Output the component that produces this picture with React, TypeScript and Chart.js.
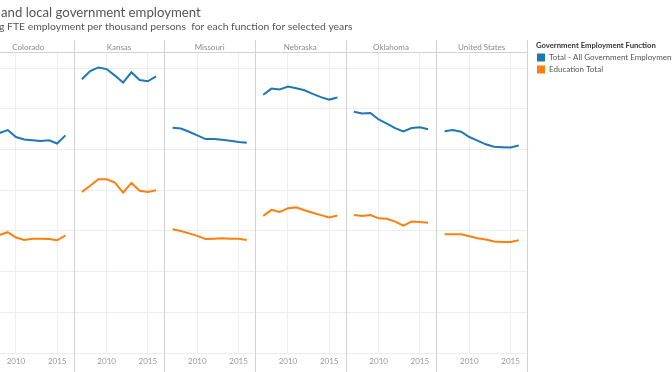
import React, { useEffect, useRef } from "react";
import { Chart, registerables } from "chart.js";

Chart.register(...registerables);

const STATES = ["Colorado", "Kansas", "Missouri", "Nebraska", "Oklahoma", "United States"];
const YEARS = [2007, 2008, 2009, 2010, 2011, 2012, 2013, 2014, 2015, 2016];
const X_TICK_YEARS = [2010, 2015];
const Y_TICKS = [0, 10, 20, 30, 40, 50, 60, 70];
const SERIES = ["Total - All Government Employment", "Education Total"];
const SERIES_COLORS = ["#1f77b4", "#ff7f0e"];

const COLORADO_TOTAL = [53.5, 54.1, 54.8, 53.1, 52.5, 52.3, 52.1, 52.3, 51.5, 53.5];
const COLORADO_EDU = [28.6, 29.0, 29.7, 28.4, 27.8, 28.1, 28.1, 28.0, 27.7, 28.9];
const KANSAS_TOTAL = [67.3, 69.3, 70.2, 69.8, 68.2, 66.5, 69.0, 67.1, 66.8, 68.0];
const KANSAS_EDU = [39.6, 41.1, 42.7, 42.7, 41.9, 39.4, 41.8, 39.9, 39.6, 40.0];
const MISSOURI_TOTAL = [55.4, 55.2, 54.4, 53.5, 52.6, 52.6, 52.4, 52.2, 51.9, 51.7];
const MISSOURI_EDU = [30.4, 30.0, 29.4, 28.8, 28.0, 28.1, 28.2, 28.1, 28.1, 27.8];
const NEBRASKA_TOTAL = [63.5, 65.0, 64.8, 65.5, 65.1, 64.6, 63.7, 62.9, 62.3, 62.8];
const NEBRASKA_EDU = [33.7, 35.2, 34.7, 35.6, 35.8, 35.1, 34.5, 33.9, 33.3, 33.8];
const OKLAHOMA_TOTAL = [59.3, 58.9, 59.0, 57.4, 56.4, 55.3, 54.5, 55.3, 55.5, 55.0];
const OKLAHOMA_EDU = [33.9, 33.7, 33.9, 33.1, 33.0, 32.3, 31.3, 32.3, 32.2, 32.0];
const US_TOTAL = [54.5, 54.8, 54.4, 53.1, 52.2, 51.3, 50.7, 50.6, 50.5, 51.0];
const US_EDU = [29.2, 29.2, 29.2, 28.7, 28.2, 27.9, 27.4, 27.3, 27.3, 27.7];

const TOTALS = [COLORADO_TOTAL, KANSAS_TOTAL, MISSOURI_TOTAL, NEBRASKA_TOTAL, OKLAHOMA_TOTAL, US_TOTAL];
const EDUS = [COLORADO_EDU, KANSAS_EDU, MISSOURI_EDU, NEBRASKA_EDU, OKLAHOMA_EDU, US_EDU];

const TITLE_HIDDEN = "State ";
const TITLE_SHOWN = "and local government employment";
const SUB_HIDDEN = "Comparin";
const SUB_SHOWN = "g FTE employment per thousand persons  for each function for selected years";

const SPAN = 11; // years per panel (2006..2017)
const BASE = 2006;
const OFF = 40; // canvas shifted left (px)
const FONT = "Lato, 'Open Sans', sans-serif";

const decor = {
  id: "decor",
  afterDraw(chart: any) {
    const ctx = chart.ctx;
    const xs = chart.scales.x;
    const area = chart.chartArea;
    ctx.save();
    // panel separators
    ctx.strokeStyle = "#d3d3d3";
    ctx.lineWidth = 1;
    for (let k = 1; k <= STATES.length; k++) {
      const x = Math.round(xs.getPixelForValue(k * SPAN)) + 0.5;
      ctx.beginPath();
      ctx.moveTo(x, 40);
      ctx.lineTo(x, 372);
      ctx.stroke();
    }
    // header bottom line
    ctx.beginPath();
    ctx.moveTo(area.left, 52.5);
    ctx.lineTo(area.right, 52.5);
    ctx.stroke();
    // headers
    ctx.fillStyle = "#8c8c8c";
    ctx.font = `8px ${FONT}`;
    ctx.textAlign = "center";
    ctx.textBaseline = "middle";
    STATES.forEach((s, i) => {
      const cx = xs.getPixelForValue(i * SPAN + SPAN / 2);
      ctx.fillText(s, cx, 47);
    });
    // title
    ctx.textAlign = "left";
    ctx.textBaseline = "middle";
    ctx.fillStyle = "#555555";
    ctx.font = `13.2px ${FONT}`;
    const tw = ctx.measureText(TITLE_HIDDEN).width;
    ctx.fillText(TITLE_HIDDEN + TITLE_SHOWN, OFF + 1 - tw, 13);
    ctx.font = `10.4px ${FONT}`;
    const sw = ctx.measureText(SUB_HIDDEN).width;
    ctx.fillText(SUB_HIDDEN + SUB_SHOWN, OFF - 1 - sw, 27);
    // legend
    const lx = OFF + 536;
    ctx.fillStyle = "#333333";
    ctx.font = `bold 7.7px ${FONT}`;
    ctx.fillText("Government Employment Function", lx, 46);
    ctx.font = `8px ${FONT}`;
    SERIES.forEach((s, i) => {
      const y = 53.5 + i * 12;
      ctx.fillStyle = SERIES_COLORS[i];
      ctx.fillRect(lx + 1, y, 8, 8);
      ctx.fillStyle = "#555555";
      ctx.fillText(s, lx + 13, y + 4);
    });
    ctx.restore();
  },
};

export default function App() {
  const ref = useRef<HTMLCanvasElement>(null);
  useEffect(() => {
    if (!ref.current) return;
    const datasets: any[] = [];
    STATES.forEach((_, i) => {
      [TOTALS[i], EDUS[i]].forEach((vals, si) => {
        datasets.push({
          label: `${STATES[i]} - ${SERIES[si]}`,
          data: YEARS.map((yr, j) => ({ x: i * SPAN + yr - BASE, y: vals[j] })),
          borderColor: SERIES_COLORS[si],
          backgroundColor: SERIES_COLORS[si],
          borderWidth: 2,
          pointRadius: 0,
          tension: 0,
          fill: false,
        });
      });
    });
    const chart = new Chart(ref.current, {
      type: "line",
      data: { datasets },
      options: {
        animation: false,
        responsive: false,
        layout: { padding: { left: 23, right: 145, top: 52, bottom: 0 } },
        plugins: { legend: { display: false }, tooltip: { enabled: false } },
        scales: {
          x: {
            type: "linear",
            min: 0,
            max: SPAN * STATES.length,
            afterBuildTicks: (s: any) => {
              s.ticks = STATES.flatMap((_, i) => X_TICK_YEARS.map((y) => ({ value: i * SPAN + y - BASE })));
            },
            afterFit: (s: any) => {
              s.height = 19;
            },
            ticks: {
              autoSkip: false,
              maxRotation: 0,
              padding: 4,
              color: "#999999",
              font: { size: 8, family: FONT },
              callback: (v: any) => String(BASE + (Math.round(Number(v)) % SPAN)),
            },
            grid: { color: "#eeeeee", drawTicks: false },
            border: { display: false },
          },
          y: {
            min: 0,
            max: 74,
            afterBuildTicks: (s: any) => {
              s.ticks = Y_TICKS.map((v) => ({ value: v }));
            },
            afterFit: (s: any) => {
              s.width = 0;
            },
            ticks: { display: false },
            grid: { color: "#ececec", drawTicks: false },
            border: { display: false },
          },
        },
      },
      plugins: [decor],
    });
    return () => chart.destroy();
  }, []);
  return (
    <div style={{ position: "fixed", left: -OFF, top: 0, width: 672 + OFF, height: 372, background: "#fff" }}>
      <canvas ref={ref} width={672 + OFF} height={372} style={{ display: "block" }} />
    </div>
  );
}
